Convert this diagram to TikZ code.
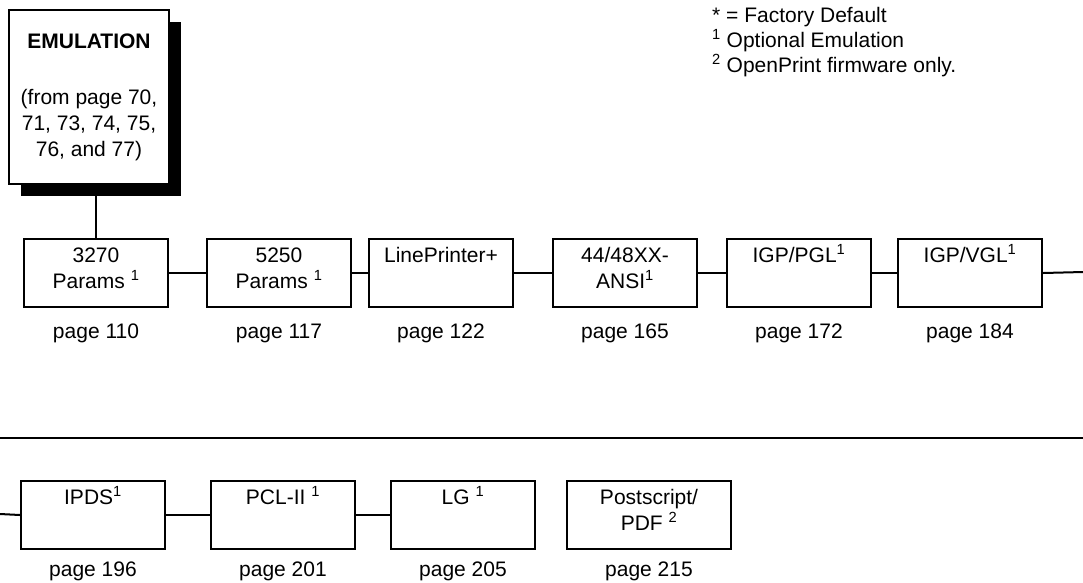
\documentclass[tikz,border=0pt]{standalone}
\usepackage{fontspec}
\setmainfont{Liberation Sans}
\usetikzlibrary{calc}
\newcommand\bxt[2]{\parbox[c][68pt][t]{#1pt}{\centering\rule{0pt}{23pt}#2}}
\begin{document}
\begin{tikzpicture}[x=1pt,y=-1pt,
  bx/.style={draw, line width=2pt, fill=white, inner sep=0pt, anchor=north west, font=\fontsize{21}{26}\selectfont},
  pg/.style={anchor=base, inner sep=0pt, font=\fontsize{21}{26}\selectfont},
  leg/.style={anchor=base west, inner sep=0pt, font=\fontsize{21}{26}\selectfont},
  ln/.style={line width=2pt}]
\useasboundingbox (0,0) rectangle (1083,582);
% EMULATION box with shadow
\node[fill=black, inner sep=0pt, minimum width=160pt, minimum height=174pt, anchor=north west] (emushadow) at (21,22) {};
\node[bx] (emu) at (8,9) {\parbox[c][174pt][t]{160pt}{\centering\rule{0pt}{38pt}\textbf{EMULATION}\par\vspace{30pt}(from page 70,\\71, 73, 74, 75,\\76, and 77)}};
% legend
\node[leg] (leg1) at (712,22) {* = Factory Default};
\node[leg] (leg2) at (712,47) {\textsuperscript{1} Optional Emulation};
\node[leg] (leg3) at (712,72) {\textsuperscript{2} OpenPrint firmware only.};
% row 1
\node[bx] (b1) at (23,238) {\bxt{144}{3270\\Params \textsuperscript{1}}};
\node[bx] (b2) at (206,238) {\bxt{144}{5250\\Params \textsuperscript{1}}};
\node[bx] (b3) at (368,238) {\bxt{144}{LinePrinter+}};
\node[bx] (b4) at (552,238) {\bxt{144}{44/48XX-\\ANSI\textsuperscript{1}}};
\node[bx] (b5) at (726,238) {\bxt{144}{IGP/PGL\textsuperscript{1}}};
\node[bx] (b6) at (897,238) {\bxt{144}{IGP/VGL\textsuperscript{1}}};
\foreach \b/\p in {b1/110,b2/117,b3/122,b4/165,b5/172,b6/184}
  \node[pg] (p\b) at ($(\b.south)+(0,30)$) {page \p};
% row 2
\node[bx] (b7) at (20,480) {\bxt{144}{IPDS\textsuperscript{1}}};
\node[bx] (b8) at (210,480) {\bxt{144}{PCL-II \textsuperscript{1}}};
\node[bx] (b9) at (390,480) {\bxt{144}{LG \textsuperscript{1}}};
\node[bx] (b10) at (566,480) {\bxt{164}{Postscript/\\PDF \textsuperscript{2}}};
\foreach \b/\p in {b7/196,b8/201,b9/205,b10/215}
  \node[pg] (p\b) at ($(\b.south)+(0,26)$) {page \p};
% connectors
\coordinate (r1end) at (1083,272);
\coordinate (sepl) at (0,438);
\coordinate (sepr) at (1083,438);
\coordinate (r2start) at (0,514);
\draw[ln] (emushadow.south -| b1.north) -- (b1.north);
\draw[ln] (b1.east) -- (b2.west);
\draw[ln] (b2.east) -- (b3.west);
\draw[ln] (b3.east) -- (b4.west);
\draw[ln] (b4.east) -- (b5.west);
\draw[ln] (b5.east) -- (b6.west);
\draw[ln] (b6.east) -- (r1end);
\draw[ln] (sepl) -- (sepr);
\draw[ln] (r2start) -- (b7.west);
\draw[ln] (b7.east) -- (b8.west);
\draw[ln] (b8.east) -- (b9.west);
\end{tikzpicture}
\end{document}
